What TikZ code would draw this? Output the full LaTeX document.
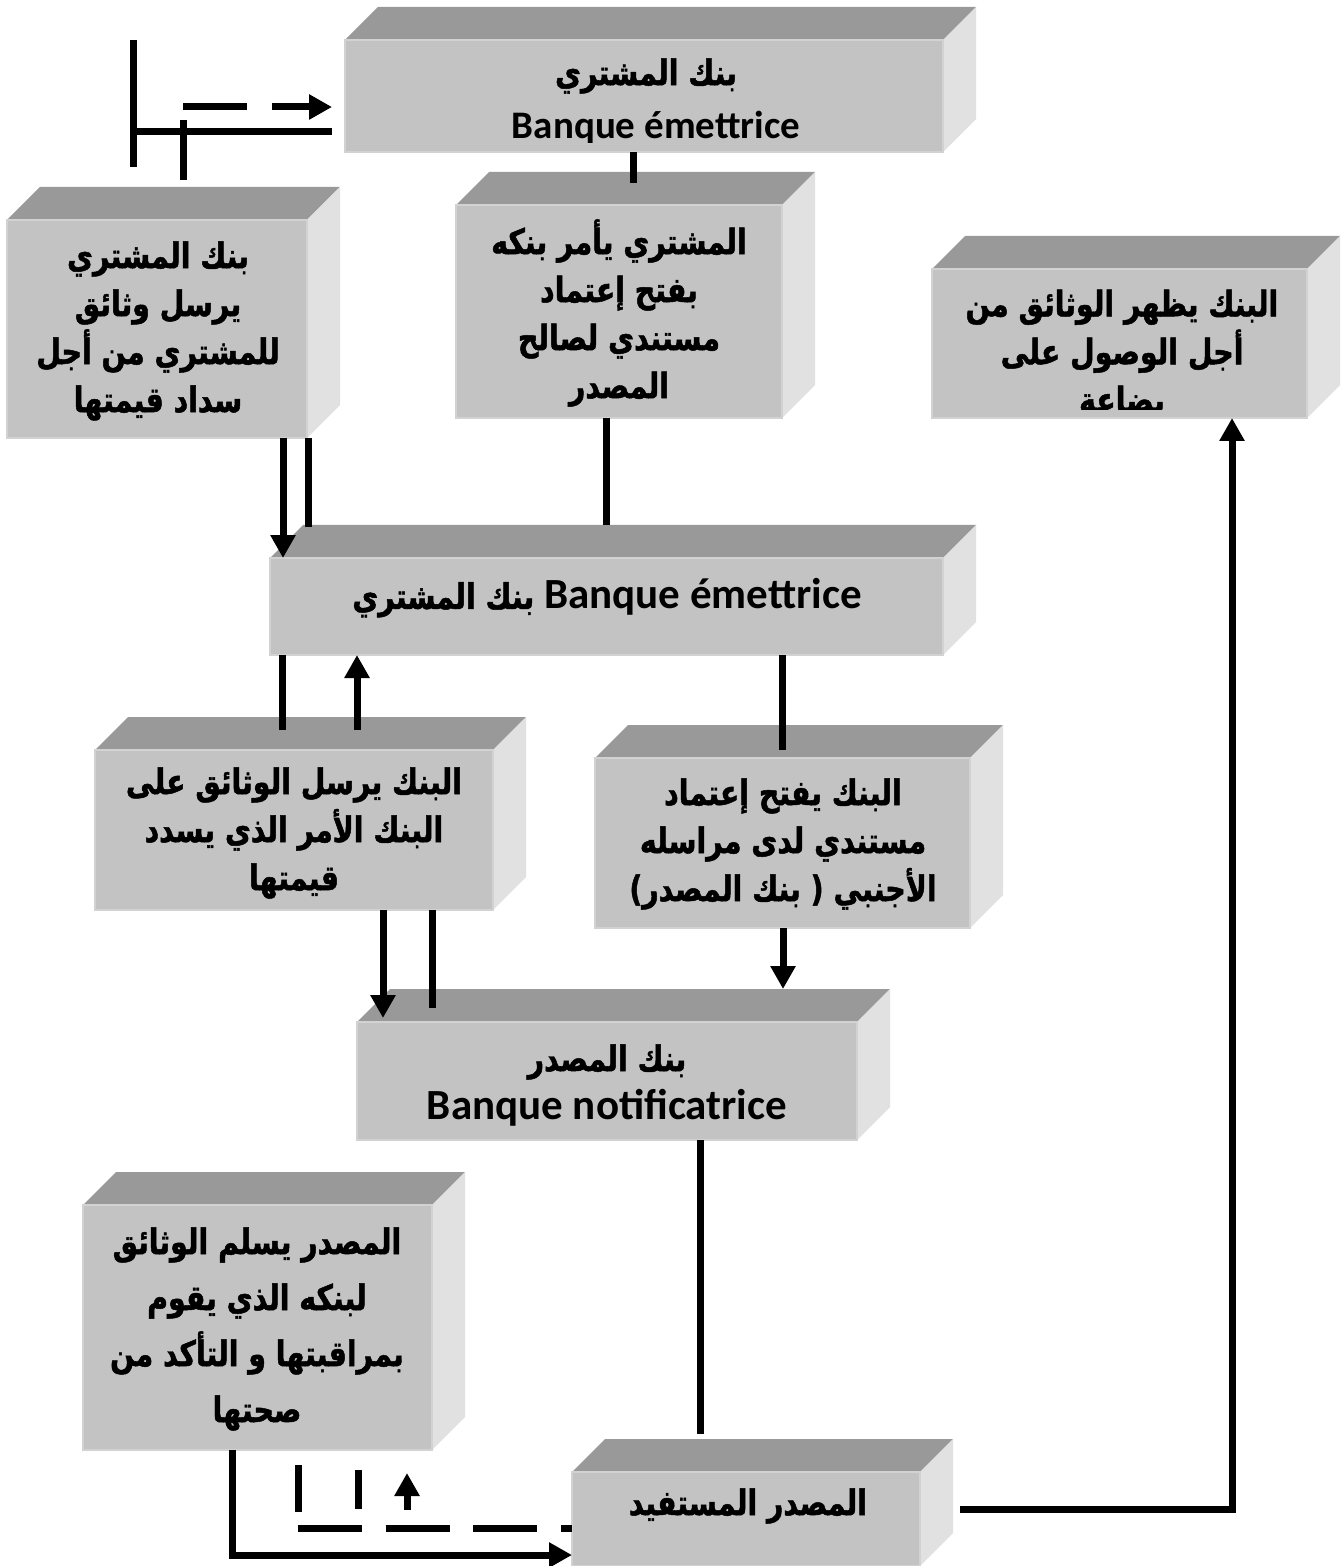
\documentclass[tikz,border=0pt]{standalone}
\usepackage{fontspec}
\setmainfont{Carlito}
\newfontfamily\arfont[Script=Arabic, FakeStretch=0.81, FakeBold=1.4]{DejaVu Sans}
\TeXXeTstate=1
\usetikzlibrary{arrows.meta,calc}

\definecolor{boxfront}{HTML}{C3C3C3}
\definecolor{boxtop}{HTML}{999999}
\definecolor{boxside}{HTML}{E1E1E1}
\definecolor{boxedge}{HTML}{D2D2D2}

% Arabic run (right to left) and Latin runs
\newcommand\AR[1]{{\arfont\bfseries\beginR #1\endR}}
\newcommand\LA[1]{{\rmfamily\bfseries\fontsize{19.5}{24}\selectfont #1}}
\newcommand\LB[1]{{\rmfamily\bfseries\fontsize{21.5}{24}\selectfont #1}}

% 3D block: name, x1, y1, x2, y2 (front face, pixel units, y downwards)
\newcommand\block[5]{%
  \fill[boxtop] (#2,#3) -- ++(33,-33) -- ++(#4-#2,0) -- (#4,#3) -- cycle;
  \fill[boxside] (#4,#3) -- ++(33,-33) -- ++(0,#5-#3) -- (#4,#5) -- cycle;
  \pgfmathsetmacro\bw{(#4-#2)*0.5}%
  \pgfmathsetmacro\bh{(#5-#3)*0.5}%
  \node[frontface, minimum width=\bw pt, minimum height=\bh pt] (#1) at (#2,#3) {};
  \coordinate (#1-back) at ($(#1.north)+(0,-33)$);
}

\begin{document}
\begin{tikzpicture}[x=0.5pt,y=-0.5pt,
  frontface/.style={fill=boxfront, draw=boxedge, line width=0.6pt, inner sep=0pt, outer sep=0pt, anchor=north west},
  ln/.style={line width=3.5pt},
  arr/.style={ln, -{Triangle[width=12pt,length=11.5pt]}},
  dsh/.style={ln, dash pattern=on 32pt off 11.8pt},
  lbl/.style={align=center, inner sep=0pt, font=\arfont\bfseries\fontsize{17.5}{24}\selectfont},
]
\fill[white] (0,0) rectangle (1341,1566);
\useasboundingbox (0,0) rectangle (1341,1566);

% blocks
\block{A}{345}{40}{943}{152}
\block{B}{7}{220}{307}{438}
\block{C}{456}{205}{782}{418}
\block{D}{932}{269}{1307}{418}
\block{E}{270}{558}{943}{655}
\block{F}{95}{750}{493}{910}
\block{G}{595}{758}{970}{928}
\block{H}{357}{1022}{857}{1140}
\block{I}{83}{1205}{432}{1450}
\block{J}{572}{1472}{920}{1566}

% labels
\begin{scope}
  \clip (345,40) rectangle (943,143);
  \node[lbl] (At1) at (646,76) {\AR{بنك المشتري}};
  \node[lbl] (At2) at (656,128) {\LA{Banque émettrice}};
\end{scope}
\node[lbl] (Bt) at (158,331) {\AR{بنك المشتري}\\\AR{يرسل وثائق}\\\AR{للمشتري من أجل}\\\AR{سداد قيمتها}};
\node[lbl] (Ct) at (619,313) {\AR{المشتري يأمر بنكه}\\\AR{بفتح  إعتماد}\\\AR{مستندي لصالح}\\\AR{المصدر}};
\begin{scope}
  \clip (932,269) rectangle (1307,410);
  \node[lbl] (Dt) at (1122,354) {\AR{البنك يظهر الوثائق من}\\\AR{أجل الوصول على}\\\AR{بضاعة}};
\end{scope}
\node[lbl] (Et) at (607,598) {\AR{بنك المشتري} \LB{Banque émettrice}};
\node[lbl] (Ft) at (294,833) {\AR{البنك يرسل الوثائق على}\\\AR{البنك الأمر الذي يسدد}\\\AR{قيمتها}};
\node[lbl] (Gt) at (783,844) {\AR{البنك يفتح إعتماد}\\\AR{مستندي لدى مراسله}\\\AR{الأجنبي ( بنك المصدر)}};
\node[lbl] (Ht1) at (607,1062) {\AR{بنك المصدر}};
\node[lbl] (Ht2) at (607,1108) {\LB{Banque notificatrice}};
\node[lbl, font=\arfont\bfseries\fontsize{17.5}{28}\selectfont] (It) at (257,1329) {\AR{المصدر يسلم الوثائق}\\\AR{لبنكه الذي يقوم}\\\AR{بمراقبتها و التأكد من}\\\AR{صحتها}};
\node[lbl] (Jt) at (748,1506) {\AR{المصدر المستفيد}};

% free ends of the small bracket strokes
\coordinate (k1a) at (133,40);
\coordinate (k1b) at (133,167);
\coordinate (k2) at (133,132);
\coordinate (k3) at (183,120);
\coordinate (k4) at (183,107);
\coordinate (k16) at (960,1509);
\coordinate (k17) at (232,1555);
\coordinate (k18) at (298,1528);
\coordinate (s1a) at (298,1465);
\coordinate (s1b) at (298,1512);
\coordinate (s2a) at (358,1470);
\coordinate (s2b) at (358,1509);
\coordinate (s3a) at (407,1510);
\coordinate (s3b) at (407,1473);

% connectors
\draw[ln] (k1a) -- (k1b);
\draw[ln, shorten >=6.5pt] (k2) -- (k2 -| A.west);
\draw[ln, shorten >=3.5pt] (k3) -- (k3 |- B-back);
\draw[arr, dash pattern=on 32pt off 12.5pt, shorten >=6.5pt] (k4) -- (k4 -| A.west);

\draw[ln] (633,0 |- A.south) -- ($(633,0 |- C-back)+(0,11)$);
\draw[ln] (606,0 |- C.south) -- (606,0 |- E-back);
\draw[arr] (283,0 |- B.south) -- (283,0 |- E.north);
\draw[ln] (308,0 |- B.south) -- ($(308,0 |- E-back)+(0,2)$);
\draw[ln] (282,0 |- E.south) -- ($(282,0 |- F-back)+(0,13)$);
\draw[arr] ($(357,0 |- F-back)+(0,13)$) -- (357,0 |- E.south);
\draw[ln] (782,0 |- E.south) -- ($(782,0 |- G-back)+(0,25)$);
\draw[arr] (383,0 |- F.south) -- ($(383,0 |- H.north)+(0,-4)$);
\draw[ln] (432,0 |- F.south) -- ($(432,0 |- H-back)+(0,19)$);
\draw[arr] (783,0 |- G.south) -- (783,0 |- H-back);
\draw[ln] (700,0 |- H.south) -- ($(700,0 |- J-back)+(0,-5)$);
\draw[arr] (k16) -- (1232,0 |- k16) -- (1232,0 |- D.south);
\draw[arr] (232,0 |- I.south) -- (k17) -- (k17 -| J.west);
\draw[dsh] (k18) -- (k18 -| J.west);
\draw[ln] (s1a) -- (s1b);
\draw[ln] (s2a) -- (s2b);
\draw[arr] (s3a) -- (s3b);
\end{tikzpicture}
\end{document}
